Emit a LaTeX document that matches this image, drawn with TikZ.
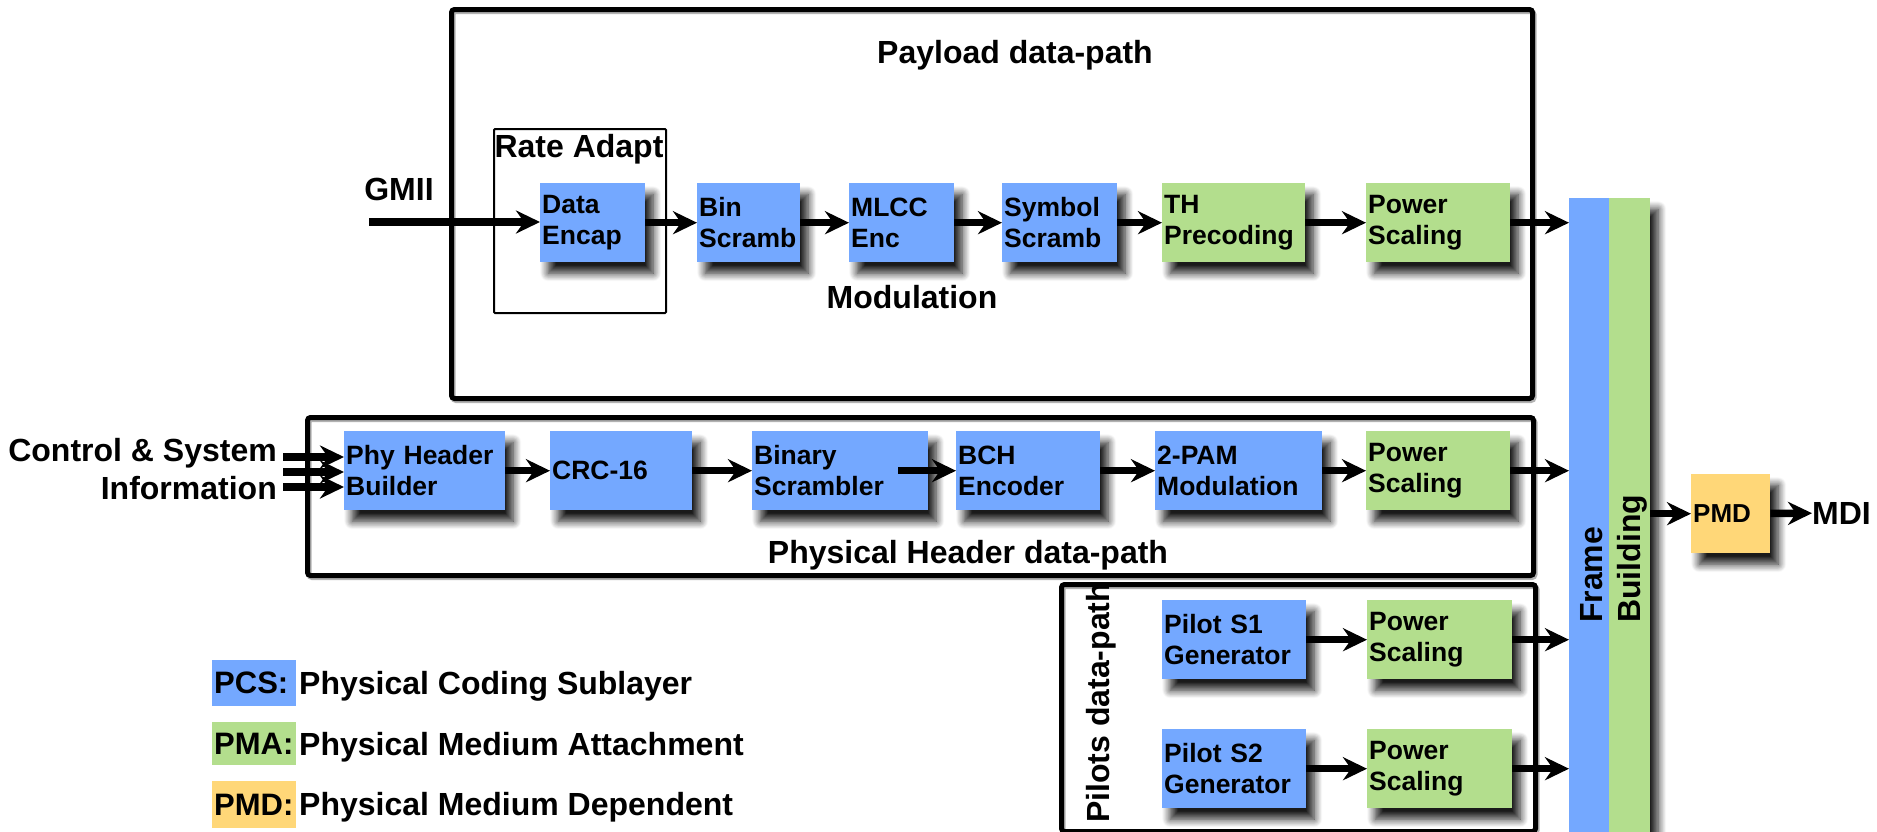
\documentclass[tikz,border=0pt]{standalone}
\usepackage{fontspec}
\setmainfont{Liberation Sans}
\usetikzlibrary{arrows.meta,shadows.blur}
\definecolor{pcsblue}{HTML}{74A8FF}
\definecolor{pmagreen}{HTML}{B3DE8D}
\definecolor{pmdyellow}{HTML}{FFD778}
\begin{document}
\begin{tikzpicture}[x=1pt,y=-1pt,
  shd/.style={blur shadow={shadow xshift=8pt,shadow yshift=-11pt,shadow blur radius=8pt,shadow blur steps=10,shadow opacity=90}},
  blk/.style={rectangle, shd, anchor=north west, minimum height=79pt, inner xsep=2pt, inner ysep=0pt, align=left, font=\fontsize{26.5}{31}\selectfont\bfseries},
  pcs/.style={blk, fill=pcsblue},
  pma/.style={blk, fill=pmagreen},
  grp/.style={draw, line width=5pt, rounded corners=3pt, anchor=north west, inner sep=0pt,
     preaction={draw=black!30, line width=5pt, transform canvas={xshift=1.5pt,yshift=-2pt}}},
  lbl/.style={font=\fontsize{32}{38}\selectfont\bfseries, inner sep=0pt},
  leg/.style={rectangle, anchor=north west, minimum width=84pt, text width=80pt, inner xsep=2pt, inner ysep=0pt, align=left, font=\fontsize{31}{36}\selectfont\bfseries},
  arr/.style={line width=7.5pt, -{Stealth[length=24pt,width=23pt,inset=8pt]}},
]
\useasboundingbox (0,0) rectangle (1877,831);

% group boxes
\node[grp, minimum width=1081pt, minimum height=389pt] (pay) at (449,7) {};
\node[grp, minimum width=1226pt, minimum height=158pt] (phy) at (305,415) {};
\node[grp, minimum width=474pt, minimum height=247pt] (pil) at (1059,582) {};
\node[draw, line width=2pt, rounded corners=1pt, anchor=north west, minimum width=172pt, minimum height=184pt, inner sep=0pt] (ra) at (493,128) {};

% labels
\node[lbl, anchor=base] (payl) at (1015,63) {Payload data-path};
\node[lbl, anchor=base] (ral) at (579,157) {Rate Adapt};
\node[lbl, anchor=base] (gmii) at (399,200) {GMII};
\node[lbl, anchor=base] (modl) at (912,308) {Modulation};
\node[lbl, anchor=base] (phyl) at (968,563) {Physical Header data-path};
\node[lbl, anchor=base east] (ctl1) at (277,461) {Control \& System};
\node[lbl, anchor=base east] (ctl2) at (277,499) {Information};
\node[lbl, rotate=90, anchor=base west] (pill) at (1109,823) {Pilots data-path};

% row 1
\node[pcs, minimum width=105pt, text width=101pt] (de) at (540,183) {Data\\Encap};
\node[pcs, minimum width=103pt, text width=99pt] (bs) at (697,183) {Bin\\Scramb};
\node[pcs, minimum width=105pt, text width=101pt] (ml) at (849,183) {MLCC\\Enc};
\node[pcs, minimum width=115pt, text width=111pt] (ss) at (1002,183) {Symbol\\Scramb};
\node[pma, minimum width=143pt, text width=139pt] (th) at (1162,183) {TH\\Precoding};
\node[pma, minimum width=144pt, text width=140pt] (ps1) at (1366,183) {Power\\Scaling};

% row 2
\node[pcs, minimum width=161pt, text width=157pt] (ph) at (344,431) {Phy Header\\Builder};
\node[pcs, minimum width=142pt, text width=138pt] (crc) at (550,431) {CRC-16};
\node[pcs, minimum width=176pt, text width=172pt] (bsc) at (752,431) {Binary\\Scrambler};
\node[pcs, minimum width=144pt, text width=140pt] (bch) at (956,431) {BCH\\Encoder};
\node[pcs, minimum width=167pt, text width=163pt] (pam) at (1155,431) {2-PAM\\Modulation};
\node[pma, minimum width=144pt, text width=140pt] (ps2) at (1366,431) {Power\\Scaling};

% pilots
\node[pcs, minimum width=144pt, text width=140pt] (s1) at (1162,600) {Pilot S1\\Generator};
\node[pma, minimum width=145pt, text width=141pt] (pp1) at (1367,600) {Power\\Scaling};
\node[pcs, minimum width=144pt, text width=140pt] (s2) at (1162,729) {Pilot S2\\Generator};
\node[pma, minimum width=145pt, text width=141pt] (pp2) at (1367,729) {Power\\Scaling};

% frame building
\node[fill=pcsblue, shd, anchor=north west, minimum width=40pt, minimum height=640pt, inner sep=0pt] (fbb) at (1569,198) {};
\node[fill=pmagreen, shd, anchor=north west, minimum width=41pt, minimum height=640pt, inner sep=0pt] (fbg) at (1609,198) {};
\node[lbl, rotate=90, anchor=base west] (fbt1) at (1602,623) {Frame};
\node[lbl, rotate=90, anchor=base west] (fbt2) at (1640,623) {Building};

% PMD
\node[rectangle, fill=pmdyellow, shd, anchor=north west, minimum width=79pt, text width=75pt, minimum height=79pt, inner xsep=2pt, inner ysep=0pt, align=left, font=\fontsize{26}{31}\selectfont\bfseries] (pmd) at (1691,474) {PMD};
\node[lbl, anchor=west] (mdi) at (1812,513) {MDI};

% legend
\node[leg, fill=pcsblue, minimum height=46pt] (lpcs) at (212,660) {PCS:};
\node[leg, fill=pmagreen, minimum height=43pt] (lpma) at (212,722) {PMA:};
\node[leg, fill=pmdyellow, minimum height=47pt] (lpmd) at (212,781) {PMD:};
\node[lbl, anchor=base west] (tpcs) at (299,694) {Physical Coding Sublayer};
\node[lbl, anchor=base west] (tpma) at (299,755) {Physical Medium Attachment};
\node[lbl, anchor=base west] (tpmd) at (299,815) {Physical Medium Dependent};

% arrows row 1
\coordinate (g0) at (369,222);
\draw[arr] (g0) -- (g0 -| de.west);
\draw[arr] (de) -- (bs);
\draw[arr] (bs) -- (ml);
\draw[arr] (ml) -- (ss);
\draw[arr] (ss) -- (th);
\draw[arr] (th) -- (ps1);
\draw[arr] (ps1) -- (ps1 -| fbb.west);

% arrows row 2
\coordinate (c1) at (283,457);
\coordinate (c2) at (283,472);
\coordinate (c3) at (283,487);
\draw[arr] (c1) -- (c1 -| ph.west);
\draw[arr] (c2) -- (c2 -| ph.west);
\draw[arr] (c3) -- (c3 -| ph.west);
\draw[arr] (ph) -- (crc);
\draw[arr] (crc) -- (bsc);
\draw[arr] ([xshift=-30pt]bsc.east) -- (bch);
\draw[arr] (bch) -- (pam);
\draw[arr] (pam) -- (ps2);
\draw[arr] (ps2) -- (ps2 -| fbb.west);

% pilots arrows
\draw[arr] (s1) -- (pp1);
\draw[arr] (s2) -- (pp2);
\draw[arr] (pp1) -- (pp1 -| fbb.west);
\draw[arr] (pp2) -- (pp2 -| fbb.west);

% output
\draw[arr] (pmd -| fbg.east) -- (pmd);
\draw[arr] (pmd) -- (mdi);
\end{tikzpicture}
\end{document}
